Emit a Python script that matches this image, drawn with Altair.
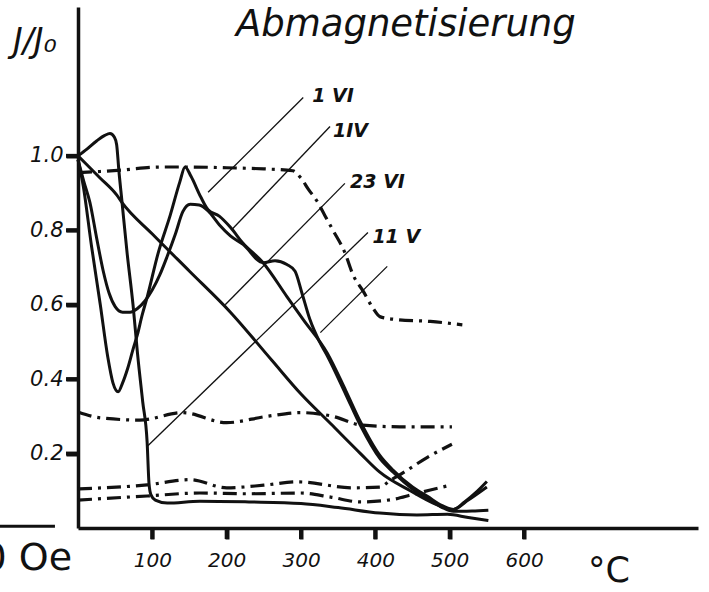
import altair as alt
import pandas as pd

# ---------------- data ----------------
s1_x = [0, 12, 25, 36, 43, 49, 52, 55, 59, 66, 74, 80, 87, 93, 95.5, 98, 104, 120, 164, 230, 300, 350, 406, 456, 497, 525, 552]
s1_y = [1.0, 1.018, 1.04, 1.055, 1.06, 1.05, 1.03, 0.96, 0.88, 0.74, 0.60, 0.47, 0.34, 0.23, 0.12, 0.09, 0.075, 0.067, 0.072, 0.07, 0.066, 0.055, 0.04, 0.035, 0.037, 0.028, 0.02]

v_x = [0, 7, 18, 30, 40, 47, 54, 60, 67, 74, 80, 86, 93, 108, 124, 137, 144, 152, 165, 175, 190, 205, 222, 249, 281, 303, 335, 360, 380, 406, 424, 450, 470, 490, 505, 520, 535, 550]
v_y = [0.99, 0.92, 0.76, 0.60, 0.46, 0.39, 0.366, 0.39, 0.43, 0.48, 0.52, 0.57, 0.62, 0.74, 0.84, 0.93, 0.97, 0.945, 0.89, 0.855, 0.838, 0.808, 0.765, 0.713, 0.622, 0.56, 0.471, 0.37, 0.285, 0.195, 0.155, 0.11, 0.085, 0.06, 0.05, 0.07, 0.095, 0.125]

u_x = [0, 8, 16, 25, 34, 42, 50, 60, 70, 80, 90, 100, 110, 120, 131, 141, 151, 163, 175, 190, 205, 222, 249, 265, 281, 292, 301, 312, 325, 336, 360, 380, 406, 424, 450, 470, 490, 505, 530, 552]
u_y = [0.99, 0.93, 0.875, 0.78, 0.69, 0.63, 0.595, 0.58, 0.58, 0.59, 0.61, 0.64, 0.68, 0.73, 0.79, 0.85, 0.87, 0.868, 0.852, 0.815, 0.785, 0.762, 0.713, 0.718, 0.708, 0.69, 0.633, 0.56, 0.50, 0.46, 0.36, 0.275, 0.187, 0.15, 0.105, 0.08, 0.055, 0.045, 0.046, 0.048]

a_x = [0, 10, 30, 52, 59, 100, 150, 205, 261, 300, 340, 380, 406, 447, 480, 505, 525, 550]
a_y = [1.0, 0.98, 0.94, 0.895, 0.875, 0.79, 0.69, 0.58, 0.45, 0.36, 0.28, 0.2, 0.15, 0.10, 0.065, 0.05, 0.075, 0.11]

d1_x = [0, 30, 60, 110, 150, 200, 250, 289, 300, 310, 321, 332, 343, 359, 370, 384, 397, 406, 429, 474, 517]
d1_y = [0.955, 0.958, 0.962, 0.97, 0.97, 0.968, 0.965, 0.96, 0.94, 0.91, 0.88, 0.84, 0.80, 0.74, 0.68, 0.635, 0.59, 0.568, 0.56, 0.555, 0.546]

d2_x = [0, 30, 83, 141, 200, 254, 299, 343, 380, 433, 503]
d2_y = [0.312, 0.296, 0.29, 0.31, 0.283, 0.30, 0.31, 0.30, 0.277, 0.272, 0.272]

d3_x = [0, 93, 151, 200, 250, 295, 370, 406, 420, 437, 470, 503]
d3_y = [0.105, 0.116, 0.13, 0.108, 0.115, 0.124, 0.108, 0.11, 0.128, 0.148, 0.19, 0.225]

d4_x = [0, 93, 164, 230, 299, 340, 380, 424, 450, 474, 503]
d4_y = [0.075, 0.086, 0.094, 0.092, 0.094, 0.083, 0.07, 0.077, 0.09, 0.102, 0.116]

label_text = ["1 VI", "1IV", "23 VI", "11 V"]
label_x = [315, 343, 366, 396]
label_y = [1.160, 1.066, 0.929, 0.781]

ptr_x1 = [303, 339, 359, 390, 416]
ptr_y1 = [1.157, 1.079, 0.926, 0.794, 0.703]
ptr_x2 = [175, 207, 198, 94, 326]
ptr_y2 = [0.902, 0.802, 0.600, 0.221, 0.525]

x_ticks = [100, 200, 300, 400, 500, 600]
y_ticks = [0.2, 0.4, 0.6, 0.8, 1.0]

FONT = "DejaVu Sans"
PLOT_W, PLOT_H = 620, 521
INK = "#111111"

def long(curves):
    rows = []
    for name, xs, ys in curves:
        for i, (xv, yv) in enumerate(zip(xs, ys)):
            rows.append({"curve": name, "i": i, "x": xv, "y": yv})
    return pd.DataFrame(rows)

solid_df = long([("S1", s1_x, s1_y), ("V", v_x, v_y), ("U", u_x, u_y), ("A", a_x, a_y)])
dash_df = long([("D1", d1_x, d1_y), ("D2", d2_x, d2_y), ("D3", d3_x, d3_y), ("D4", d4_x, d4_y)])
ptr_df = pd.DataFrame({"x": ptr_x1, "y": ptr_y1, "x2": ptr_x2, "y2": ptr_y2})
lab_df = pd.DataFrame({"t": label_text, "x": label_x, "y": label_y})
xt_df = pd.DataFrame({"x": x_ticks})
yt_df = pd.DataFrame({"y": y_ticks})

xscale = alt.Scale(domain=[0, 834], nice=False, zero=False)
yscale = alt.Scale(domain=[0, 1.4], nice=False, zero=False)

xaxis = alt.Axis(values=x_ticks, format="d", title=None, grid=False,
                 tickSize=11, tickWidth=4, tickColor=INK,
                 domainWidth=3.5, domainColor=INK,
                 labelFont=FONT, labelFontSize=20, labelFontStyle="italic",
                 labelColor=INK, labelPadding=11)
yaxis = alt.Axis(values=y_ticks, format=".1f", title=None, grid=False,
                 tickSize=12, tickWidth=4, tickColor=INK,
                 domainWidth=3.5, domainColor=INK,
                 labelFont=FONT, labelFontSize=21, labelFontStyle="italic",
                 labelColor=INK, labelPadding=3)

X = alt.X("x:Q", scale=xscale, axis=xaxis)
Y = alt.Y("y:Q", scale=yscale, axis=yaxis)

solid = alt.Chart(solid_df).mark_line(color=INK, strokeWidth=3, interpolate="monotone").encode(
    x=X, y=Y, detail="curve:N", order="i:Q")

dashed = alt.Chart(dash_df).mark_line(color=INK, strokeWidth=3.2, interpolate="monotone",
                                      strokeDash=[14, 6, 3, 6]).encode(
    x=X, y=Y, detail="curve:N", order="i:Q")

pointers = alt.Chart(ptr_df).mark_rule(color=INK, strokeWidth=1.3).encode(
    x=X, y=Y, x2="x2:Q", y2="y2:Q")

labels = alt.Chart(lab_df).mark_text(font=FONT, fontSize=19, fontStyle="italic", fontWeight="bold",
                                     align="left", baseline="middle", color=INK).encode(
    x=X, y=Y, text="t:N")

stub_df = pd.DataFrame({"x": [-105], "x2": [-31], "y": [0.005]})
stub = alt.Chart(stub_df).mark_rule(color=INK, strokeWidth=3).encode(x=X, x2="x2:Q", y=Y)

ann_df = pd.DataFrame({"t": ["Abmagnetisierung"], "x": [441], "y": [1.322]})
title = alt.Chart(ann_df).mark_text(font=FONT, fontSize=37, fontStyle="italic", align="center",
                                    baseline="alphabetic", color=INK).encode(x=X, y=Y, text="t:N")

jj_df = pd.DataFrame({"t": ["J/J\u2080"], "x": [-87.5], "y": [1.279]})
jj = alt.Chart(jj_df).mark_text(font=FONT, fontSize=33, fontStyle="italic", align="left",
                                baseline="alphabetic", color=INK).encode(x=X, y=Y, text="t:N")

degc_df = pd.DataFrame({"t": ["\u00b0C"], "x": [686], "y": [-0.145]})
degc = alt.Chart(degc_df).mark_text(font=FONT, fontSize=35, align="left",
                                    baseline="alphabetic", color=INK).encode(x=X, y=Y, text="t:N")

oe_df = pd.DataFrame({"t": ["0 Oe"], "x": [-8], "y": [-0.113]})
oe = alt.Chart(oe_df).mark_text(font=FONT, fontSize=38, align="right",
                                baseline="alphabetic", color=INK).encode(x=X, y=Y, text="t:N")

# explicit outward tick marks, drawn last
xticks = alt.Chart(xt_df).mark_rule(color=INK, strokeWidth=4).encode(
    x=X, y=alt.value(PLOT_H), y2=alt.value(PLOT_H + 11))
yticks = alt.Chart(yt_df).mark_rule(color=INK, strokeWidth=4).encode(
    y=Y, x=alt.value(0), x2=alt.value(-12))

chart = alt.layer(solid, dashed, pointers, labels, stub, title, jj, degc, oe, xticks, yticks).properties(
    width=PLOT_W, height=PLOT_H,
    autosize=alt.AutoSizeParams(type="none"),
    padding={"left": 78, "top": 7, "right": 11, "bottom": 64},
    background="white",
).configure_view(strokeWidth=0)

chart.save("out.html", embed_options={"renderer": "svg", "actions": False})
